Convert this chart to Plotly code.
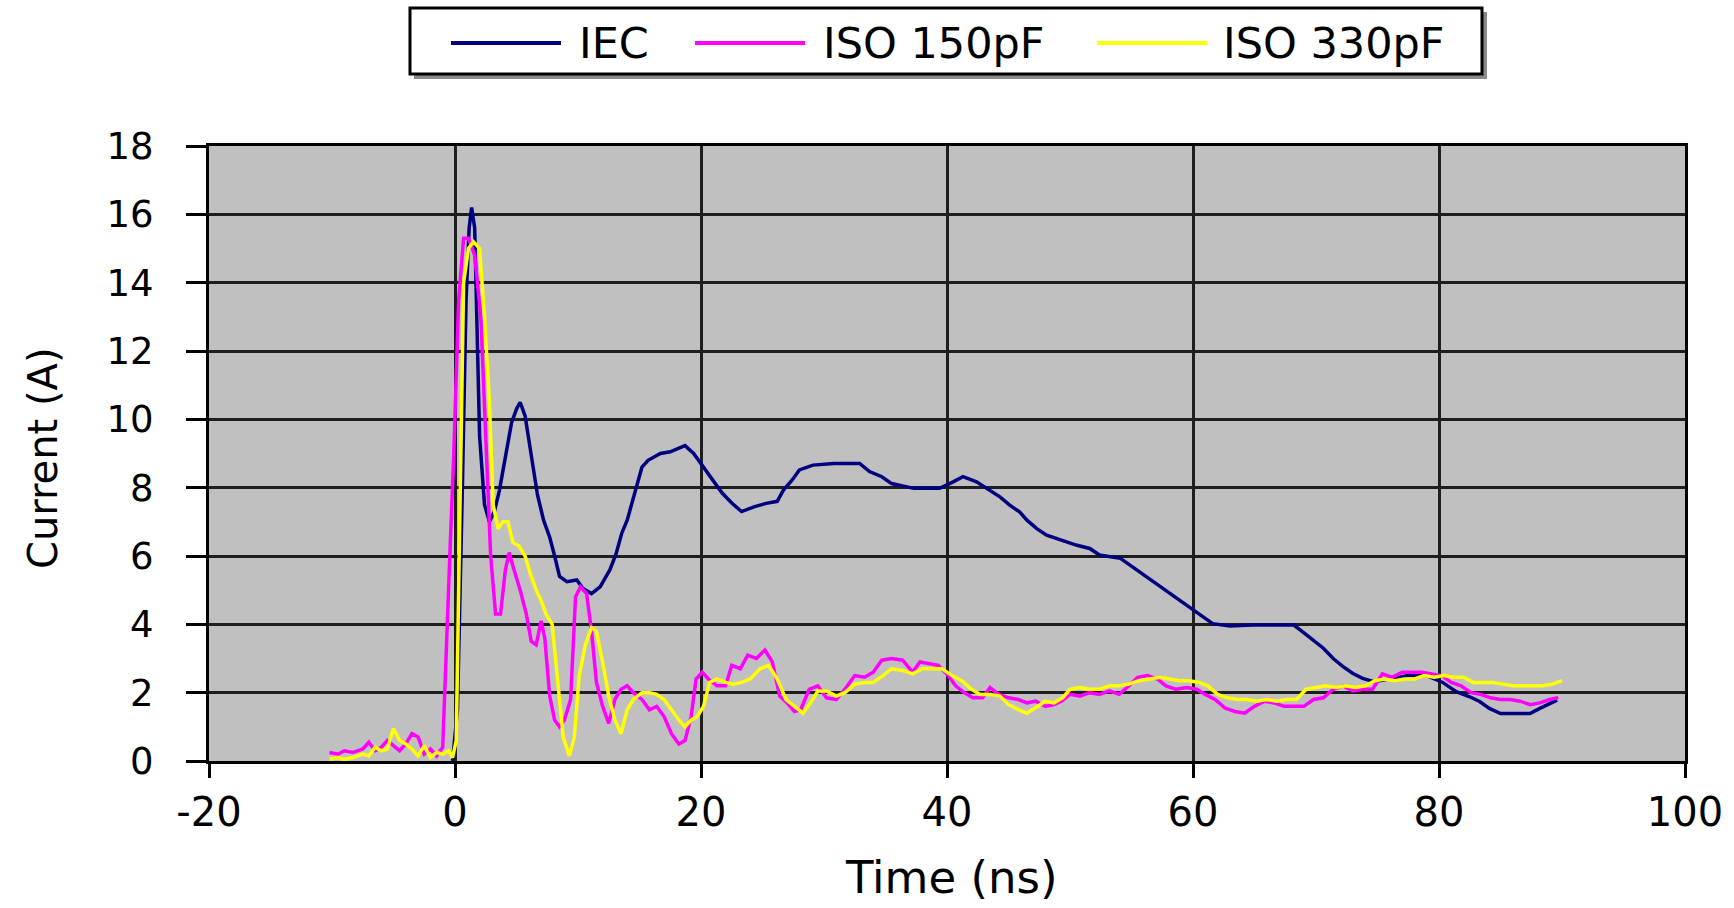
import plotly.graph_objects as go

# ---- data -------------------------------------------------------------
series_names = ["IEC", "ISO 150pF", "ISO 330pF"]

iec_t = [-0.2, 0.2, 0.6, 0.9, 1.15, 1.35, 1.6, 1.8, 2.0, 2.4, 2.8, 3.2, 3.6, 4.1, 4.6,
         5.0, 5.3, 5.7, 6.0, 6.3, 6.7, 7.2, 7.7, 8.1, 8.5, 9.1, 9.9, 10.4, 11.1, 11.8,
         12.6, 13.1, 13.55, 14.0, 14.4, 14.8, 15.2, 15.7, 16.7, 17.5, 18.7, 19.4, 20.2,
         21.0, 21.7, 22.5, 23.3, 24.3, 25.3, 26.2, 26.7, 27.4, 28.0, 29.1, 30.8, 32.9,
         33.7, 34.7, 35.5, 37.3, 39.4, 40.5, 41.3, 42.4, 43.2, 44.3, 45.1, 45.9, 46.5,
         47.3, 48.1, 49.2, 50.5, 51.6, 52.4, 54.1, 55.4, 57.3, 58.9, 60.0, 60.8, 61.6,
         63.0, 64.9, 67.1, 68.2, 69.1, 69.8, 70.6, 71.4, 72.2, 73.0, 73.8, 74.7, 76.0,
         77.5, 79.0, 80.3, 81.4, 82.5, 83.3, 84.1, 85.0, 86.0, 87.4, 88.2, 89.0, 89.6]
iec_i = [0.0, 1.5, 8.0, 13.5, 15.6, 16.2, 15.6, 12.0, 9.5, 7.5, 7.0, 7.3, 7.9, 8.9, 9.9,
         10.3, 10.5, 10.1, 9.4, 8.6, 7.8, 7.05, 6.55, 6.0, 5.4, 5.25, 5.3, 5.05, 4.9, 5.1,
         5.6, 6.07, 6.66, 7.05, 7.55, 8.05, 8.6, 8.8, 9.0, 9.05, 9.23, 9.0, 8.6,
         8.2, 7.85, 7.55, 7.3, 7.44, 7.54, 7.6, 7.93, 8.22, 8.52, 8.66, 8.71, 8.71,
         8.47, 8.32, 8.12, 7.98, 7.98, 8.17, 8.32, 8.17, 7.98, 7.73, 7.49, 7.29, 7.05,
         6.8, 6.61, 6.47, 6.32, 6.22, 6.03, 5.93, 5.6, 5.1, 4.68, 4.42, 4.22, 4.02,
         3.95, 3.98, 3.98, 3.98, 3.73, 3.54, 3.3, 3.0, 2.76, 2.56, 2.42, 2.32, 2.4,
         2.5, 2.5, 2.3, 2.03, 1.88, 1.74, 1.54, 1.39, 1.39, 1.39, 1.54, 1.68, 1.78]

iso150_t = [-10.2, -9.5, -9.0, -8.3, -7.5, -7.0, -6.5, -6.0, -5.5, -5.0, -4.5, -4.0, -3.5,
            -3.0, -2.5, -2.0, -1.5, -1.0, -0.7, -0.4, -0.1, 0.3, 0.7, 1.1, 1.6, 2.1, 2.5,
            2.9, 3.3, 3.7, 4.1, 4.4, 4.8, 5.3, 5.8, 6.2, 6.6, 7.0, 7.3, 7.7, 8.1, 8.5, 8.9,
            9.4, 9.8, 10.2, 10.7, 11.1, 11.5, 12.0, 12.5, 13.0, 13.5, 14.0, 14.5, 15.2,
            15.8, 16.4, 17.0, 17.6, 18.2, 18.7, 19.2, 19.6, 20.1, 20.6, 21.3, 22.0, 22.5,
            23.2, 23.8, 24.5, 25.2, 25.8, 26.4, 27.0, 27.6, 28.1, 28.8, 29.5, 30.2, 31.0,
            31.7, 32.5, 33.3, 34.0, 34.7, 35.5, 36.4, 37.2, 37.8, 38.5, 39.3, 40.1, 40.7,
            41.4, 42.1, 42.9, 43.5, 44.2, 45.0, 45.8, 46.5, 47.2, 48.0, 48.7, 49.3, 50.0,
            50.8, 51.6, 52.4, 53.2, 54.0, 54.8, 55.5, 56.3, 57.1, 57.8, 58.6, 59.5, 60.3,
            61.0, 61.8, 62.6, 63.4, 64.2, 65.0, 65.8, 66.6, 67.4, 68.2, 69.0, 69.8, 70.6,
            71.4, 72.2, 73.0, 73.8, 74.6, 75.4, 76.2, 77.0, 77.8, 78.6, 79.4, 80.2, 81.0,
            81.8, 82.6, 83.4, 84.2, 85.0, 85.8, 86.6, 87.4, 88.2, 89.0, 89.7]
iso150_i = [0.25, 0.2, 0.3, 0.25, 0.35, 0.55, 0.3, 0.4, 0.6, 0.45, 0.3, 0.5, 0.8,
            0.7, 0.2, 0.35, 0.15, 0.4, 3.0, 6.2, 9.0, 13.5, 15.3, 15.3, 14.8, 13.0, 9.5,
            6.0, 4.3, 4.3, 5.6, 6.1, 5.6, 5.0, 4.3, 3.5, 3.4, 4.1, 3.6, 1.9, 1.2, 1.0, 1.2,
            1.8, 4.8, 5.1, 4.9, 3.8, 2.3, 1.6, 1.1, 1.8, 2.1, 2.2, 2.0, 1.8,
            1.5, 1.6, 1.3, 0.8, 0.5, 0.6, 1.3, 2.4, 2.6, 2.4, 2.2, 2.2, 2.8,
            2.7, 3.1, 3.0, 3.25, 2.9, 1.9, 1.7, 1.45, 1.5, 2.1, 2.2, 1.85, 1.8,
            2.1, 2.5, 2.45, 2.6, 2.95, 3.0, 2.95, 2.6, 2.9, 2.85, 2.8, 2.5, 2.2,
            2.0, 1.85, 1.85, 2.15, 1.95, 1.85, 1.8, 1.7, 1.75, 1.6, 1.65, 1.75, 1.95,
            1.9, 2.0, 1.95, 2.05, 1.95, 2.2, 2.45, 2.5, 2.4, 2.2, 2.1, 2.15, 2.1,
            1.95, 1.8, 1.55, 1.45, 1.4, 1.6, 1.75, 1.7, 1.6, 1.6, 1.6, 1.8, 1.85,
            2.1, 2.2, 2.05, 2.1, 2.1, 2.55, 2.45, 2.6, 2.6, 2.6, 2.55, 2.5, 2.3,
            2.2, 2.0, 1.95, 1.85, 1.8, 1.8, 1.75, 1.65, 1.7, 1.8, 1.85]

iso330_t = [-10.2, -9.5, -9.0, -8.3, -7.5, -7.0, -6.5, -6.0, -5.5, -5.0, -4.5, -4.0, -3.5,
            -3.0, -2.5, -2.0, -1.5, -1.0, -0.5, -0.2, 0.1, 0.4, 0.7, 1.1, 1.5, 2.0, 2.4,
            2.8, 3.1, 3.5, 3.9, 4.3, 4.7, 5.2, 5.7, 6.1, 6.6, 7.0, 7.4, 7.9, 8.3, 8.8, 9.3,
            9.7, 10.1, 10.6, 11.1, 11.5, 12.0, 12.5, 13.0, 13.5, 14.0, 14.5, 15.2, 15.8,
            16.4, 17.0, 17.6, 18.2, 18.7, 19.2, 19.7, 20.2, 20.7, 21.3, 22.0, 22.6, 23.3,
            24.0, 24.8, 25.5, 26.2, 26.9, 27.6, 28.3, 28.9, 29.5, 30.2, 31.0, 31.7, 32.5,
            33.3, 34.0, 34.8, 35.5, 36.4, 37.2, 38.0, 38.8, 39.6, 40.4, 41.2, 42.0, 42.7,
            43.5, 44.3, 45.0, 45.8, 46.5, 47.2, 48.0, 48.7, 49.4, 50.0, 50.8, 51.6, 52.4,
            53.2, 54.0, 54.8, 55.6, 56.5, 57.3, 58.1, 58.9, 59.7, 60.5, 61.2, 62.0, 62.8,
            63.6, 64.4, 65.2, 66.0, 66.8, 67.6, 68.4, 69.2, 70.0, 70.8, 71.6, 72.4, 73.2,
            74.0, 74.8, 75.6, 76.4, 77.2, 78.0, 78.8, 79.6, 80.4, 81.2, 82.0, 82.8, 83.6,
            84.4, 85.2, 86.0, 86.8, 87.6, 88.4, 89.2, 90.0]
iso330_i = [0.05, 0.1, 0.05, 0.1, 0.2, 0.15, 0.4, 0.3, 0.35, 0.95, 0.6, 0.5, 0.35,
            0.15, 0.45, 0.1, 0.25, 0.2, 0.3, 0.1, 0.6, 8.0, 14.0, 15.0, 15.2, 15.0, 13.0,
            10.5, 7.5, 6.8, 7.0, 7.0, 6.4, 6.3, 6.0, 5.5, 5.0, 4.7, 4.3, 4.0, 2.6, 0.7, 0.15,
            0.7, 2.5, 3.4, 3.9, 3.8, 2.9, 1.9, 1.2, 0.8, 1.5, 1.8, 2.0, 2.0,
            1.95, 1.8, 1.5, 1.2, 1.0, 1.2, 1.3, 1.6, 2.3, 2.4, 2.3, 2.25, 2.3,
            2.4, 2.7, 2.8, 2.4, 1.8, 1.6, 1.4, 1.7, 2.05, 2.05, 1.9, 2.0, 2.25,
            2.3, 2.3, 2.5, 2.7, 2.65, 2.55, 2.7, 2.7, 2.7, 2.5, 2.35, 2.1, 1.95,
            1.95, 1.9, 1.65, 1.5, 1.4, 1.55, 1.75, 1.7, 1.85, 2.1, 2.15, 2.1, 2.1,
            2.2, 2.2, 2.25, 2.35, 2.4, 2.45, 2.4, 2.35, 2.35, 2.3, 2.2, 1.95, 1.85,
            1.8, 1.8, 1.75, 1.8, 1.75, 1.8, 1.8, 2.1, 2.15, 2.2, 2.15, 2.2, 2.15,
            2.2, 2.35, 2.4, 2.35, 2.4, 2.4, 2.5, 2.45, 2.5, 2.45, 2.45, 2.3, 2.3,
            2.3, 2.25, 2.2, 2.2, 2.2, 2.2, 2.25, 2.35]

x_ticks = [-20, 0, 20, 40, 60, 80, 100]
x_tick_text = ["-20", "0", "20", "40", "60", "80", "100"]
y_ticks = [0, 2, 4, 6, 8, 10, 12, 14, 16, 18]

# ---- styling ------------------------------------------------------------
colors = ["#000080", "#FF00FF", "#FFFF00"]
FONT = "DejaVu Sans"
W, H = 1734, 908
L, R, T, B = 209, 49, 146, 147
PW, PH = W - L - R, H - T - B


def px(x):
    return (x - L) / PW


def py(y):
    return (H - B - y) / PH


fig = go.Figure()
for name, t, i, c in zip(series_names,
                         [iec_t, iso150_t, iso330_t],
                         [iec_i, iso150_i, iso330_i],
                         colors):
    fig.add_trace(go.Scatter(x=t, y=i, mode="lines", name=name,
                             line=dict(color=c, width=3.5), showlegend=False))

grid = "#1e1e1e"
fig.update_xaxes(range=[-20, 100], tickvals=x_ticks, ticktext=x_tick_text,
                 showgrid=True, gridcolor=grid, gridwidth=3,
                 showline=True, linecolor="black", linewidth=3, mirror=True,
                 ticks="outside", ticklen=14, tickwidth=3, tickcolor="black",
                 ticklabelstandoff=0, zeroline=False,
                 tickfont=dict(family=FONT, size=40, color="black"))
fig.update_yaxes(range=[0, 18], tickvals=y_ticks,
                 showgrid=True, gridcolor=grid, gridwidth=3,
                 showline=True, linecolor="black", linewidth=3, mirror=True,
                 ticks="outside", ticklen=20, tickwidth=3, tickcolor="black",
                 ticklabelstandoff=25, zeroline=False,
                 tickfont=dict(family=FONT, size=37, color="black"))

# axis titles
annotations = [
    dict(text="Time (ns)", x=px(951), y=py(877), xref="paper", yref="paper",
         xanchor="center", yanchor="middle", showarrow=False,
         font=dict(family=FONT, size=45, color="black")),
    dict(text="Current (A)", x=px(43), y=py(458), xref="paper", yref="paper",
         xanchor="center", yanchor="middle", showarrow=False, textangle=-90,
         font=dict(family=FONT, size=40, color="black")),
]

# legend box drawn at the top of the figure
shapes = [
    dict(type="rect", xref="paper", yref="paper",
         x0=px(414), x1=px(1487), y0=py(12), y1=py(79),
         fillcolor="#8a8a8a", line=dict(width=0), layer="above"),
    dict(type="rect", xref="paper", yref="paper",
         x0=px(410), x1=px(1482), y0=py(8), y1=py(74),
         fillcolor="white", line=dict(color="black", width=3), layer="above"),
]
legend_line_x = [(451, 561), (695, 805), (1097, 1207)]
legend_text_x = [577, 821, 1221]
for name, c, (a, b), tx in zip(series_names, colors, legend_line_x, legend_text_x):
    shapes.append(dict(type="line", xref="paper", yref="paper",
                       x0=px(a), x1=px(b), y0=py(43), y1=py(43),
                       line=dict(color=c, width=4), layer="above"))
    annotations.append(dict(text=name, x=px(tx), y=py(43), xref="paper", yref="paper",
                            xanchor="left", yanchor="middle", showarrow=False,
                            font=dict(family=FONT, size=43, color="black")))

fig.update_layout(width=W, height=H, autosize=False,
                  margin=dict(l=L, r=R, t=T, b=B, pad=0),
                  plot_bgcolor="#C0C0C0", paper_bgcolor="white",
                  shapes=shapes, annotations=annotations, showlegend=False)

fig.write_html("out.html")
